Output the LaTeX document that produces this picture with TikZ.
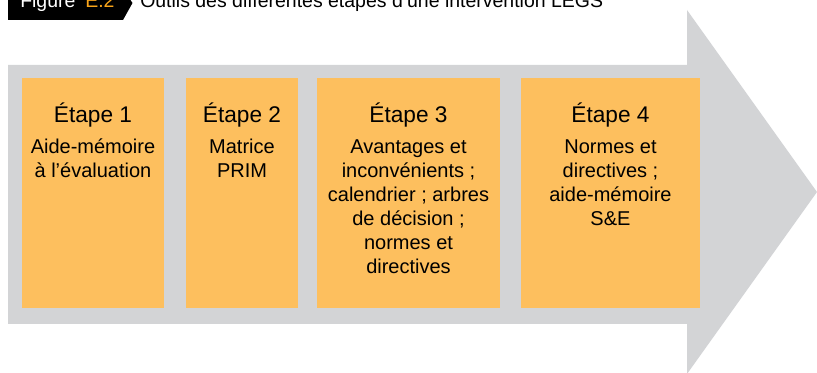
\documentclass[tikz,border=0pt]{standalone}
\usepackage{fontspec}
\setmainfont{Liberation Sans}
\definecolor{arrowgray}{HTML}{D3D4D6}
\definecolor{boxorange}{HTML}{FDBF5E}
\definecolor{tagorange}{HTML}{F9A51A}
\begin{document}
\begin{tikzpicture}[x=0.75pt,y=-0.75pt,
  stepbox/.style={fill=boxorange,draw=none,inner sep=0pt,minimum height=172.3pt},
  steptitle/.style={anchor=base,inner sep=0pt,font=\fontsize{17}{20}\selectfont},
  stepbody/.style={anchor=north,inner sep=0pt,align=center,font=\fontsize{15}{18}\selectfont}]
\useasboundingbox (0,0) rectangle (817,373);
\begin{scope}
\clip (0,0) rectangle (817,373);
% big arrow
\fill[arrowgray] (8,65) -- (687,65) -- (687,10) -- (817,192) -- (687,374) -- (687,324) -- (8,324) -- cycle;
% header tag
\fill[black] (8,-2) -- (129,-2) -- (132.5,3) -- (123,20) -- (8,20) -- cycle;
\node[anchor=base west,inner sep=0pt,font=\fontsize{14.6}{16}\selectfont,text=white] (fig) at (20,8) {Figure};
\node[anchor=base west,inner sep=0pt,font=\fontsize{14.6}{16}\selectfont,text=tagorange] (num) at (85,8) {E.2};
\node[anchor=base west,inner sep=0pt,font=\fontsize{14.6}{16}\selectfont] (cap) at (140,8) {Outils des différentes étapes d’une intervention LEGS};
\end{scope}
% boxes
\node[stepbox,minimum width=106.5pt] (b1) at (93,192.85) {};
\node[stepbox,minimum width=84pt] (b2) at (242,192.85) {};
\node[stepbox,minimum width=137.25pt] (b3) at (408.5,192.85) {};
\node[stepbox,minimum width=134.25pt] (b4) at (610.5,192.85) {};
% titles
\node[steptitle] (t1) at (93,123) {Étape 1};
\node[steptitle] (t2) at (242,123) {Étape 2};
\node[steptitle] (t3) at (408.5,123) {Étape 3};
\node[steptitle] (t4) at (610.5,123) {Étape 4};
% bodies
\node[stepbody] (d1) at (93,135.67) {\rule{0pt}{13pt}Aide-mémoire\\à l’évaluation};
\node[stepbody] (d2) at (242,135.67) {\rule{0pt}{13pt}Matrice\\PRIM};
\node[stepbody] (d3) at (408.5,135.67) {\rule{0pt}{13pt}Avantages et\\inconvénients ;\\calendrier ; arbres\\de décision ;\\normes et\\directives};
\node[stepbody] (d4) at (610.5,135.67) {\rule{0pt}{13pt}Normes et\\directives ;\\aide-mémoire\\S\&E};
\end{tikzpicture}
\end{document}
